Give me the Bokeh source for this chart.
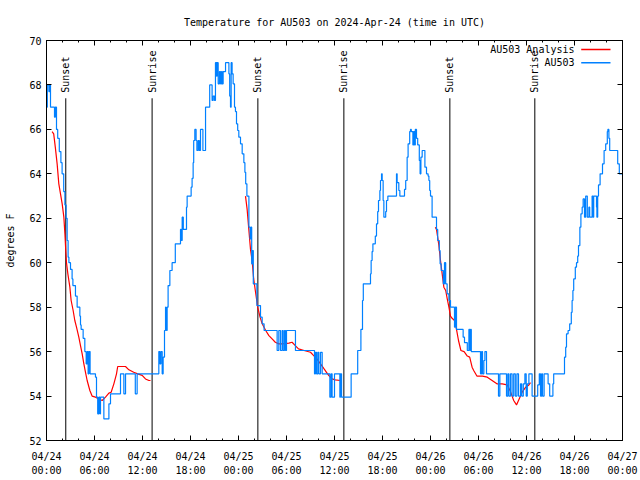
import math
from bokeh.plotting import figure
from bokeh.models import Range1d, LinearAxis, FixedTicker
from bokeh.embed import file_html
from bokeh.resources import INLINE
from bokeh.core.properties import value

FONT = "DejaVu Sans Mono"

# ---------------- data (hours since 2024-04-24 00:00 UTC) ----------------
x_ticks = [0, 6, 12, 18, 24, 30, 36, 42, 48, 54, 60, 66, 72]
x_tick_labels = ["04/24\n00:00", "04/24\n06:00", "04/24\n12:00", "04/24\n18:00",
                 "04/25\n00:00", "04/25\n06:00", "04/25\n12:00", "04/25\n18:00",
                 "04/26\n00:00", "04/26\n06:00", "04/26\n12:00", "04/26\n18:00",
                 "04/27\n00:00"]
x_minor_ticks = list(range(0, 73, 2))
y_ticks = [52, 54, 56, 58, 60, 62, 64, 66, 68, 70]

event_hours = [2.41, 13.2, 26.42, 37.17, 50.42, 61.04]
event_names = ["Sunset", "Sunrise", "Sunset", "Sunrise", "Sunset", "Sunrise"]

obs_hours = [
    0.0, 0.1, 0.3, 0.4, 0.5, 1.0, 1.1, 1.25, 1.4, 1.6, 1.8, 1.95, 2.15, 2.3, 2.45,
    2.58, 2.7, 2.8, 3.0, 3.2, 3.3, 3.62, 3.83, 4.17, 4.25, 4.33, 4.58, 4.79, 4.96,
    5.1, 5.2, 5.3, 5.45, 6.12, 6.25, 6.4, 6.54, 6.67, 6.75, 7.17, 7.8, 8.0, 9.25,
    9.67, 9.88, 11.1, 11.33, 14.04, 14.17, 14.3, 14.46, 14.58, 14.75, 14.88, 14.95,
    15.0, 15.08, 15.2, 15.42, 15.7, 16.1, 16.75, 16.85, 16.96, 17.1, 17.5, 17.58,
    18.08, 18.2, 18.33, 18.4, 18.54, 18.7, 18.8, 18.96, 19.1, 19.25, 19.55, 19.88,
    20.4, 20.7, 20.83, 21.0, 21.12, 21.25, 21.33, 21.46, 21.62, 21.75, 21.88, 21.96,
    22.08, 22.38, 22.8, 22.9, 23.0, 23.08, 23.2, 23.33, 23.5, 23.62, 23.75, 23.9,
    24.04, 24.25, 24.46, 24.67, 24.8, 24.9, 25.05, 25.3, 25.45, 25.55, 25.65, 25.75,
    25.85, 26.3, 26.75, 26.96, 27.2, 28.83, 29.04, 29.25, 29.46, 29.58, 29.75, 29.88,
    30.0, 31.12, 33.5, 33.62, 33.75, 33.92, 34.04, 34.25, 34.46, 35.42, 35.58, 35.7,
    36.0, 36.67, 36.75, 36.88, 38.08, 38.9, 39.3, 39.5, 39.6, 40.5, 40.58, 40.7,
    40.8, 41.1, 41.25, 41.4, 41.5, 41.67, 41.75, 41.88, 41.96, 42.08, 42.17, 42.4,
    42.5, 42.67, 43.75, 43.83, 44.04, 44.17, 44.75, 44.9, 45.08, 45.2, 45.4, 45.5,
    45.6, 45.8, 45.9, 46.0, 46.1, 46.25, 46.4, 46.6, 46.7, 46.8, 46.96, 47.3, 47.5,
    47.7, 47.8, 47.9, 48.0, 48.2, 48.75, 48.9, 49.1, 49.2, 49.33, 49.6, 49.75, 49.9,
    50.08, 50.3, 50.5, 51.0, 51.1, 51.25, 52.08, 52.25, 52.6, 52.8, 52.9, 53.0, 53.1,
    54.25, 54.4, 54.5, 54.67, 54.8, 55.0, 56.5, 56.67, 57.5, 57.67, 57.8, 58.0, 58.2,
    58.4, 58.6, 58.8, 59.0, 59.25, 59.4, 59.6, 59.8, 59.96, 60.1, 60.3, 60.7, 61.4,
    61.6, 61.75, 61.9, 62.0, 62.2, 62.7, 62.9, 63.3, 63.4, 64.75, 64.9, 65.0, 65.2,
    65.4, 65.6, 65.7, 65.8, 65.9, 66.1, 66.25, 66.4, 66.5, 66.67, 66.8, 66.96, 67.08,
    67.25, 67.4, 67.6, 67.8, 67.9, 68.2, 68.3, 68.4, 68.75, 68.8, 68.9, 69.0, 69.2,
    69.5, 69.7, 69.9, 70.1, 70.17, 70.3, 70.4, 71.4, 71.6, 72.0]
obs_temps = [
    67.0, 68.0, 67.7, 68.0, 67.0, 66.55, 67.0, 66.0, 65.6, 65.0, 64.5, 64.0, 63.2, 62.6, 62.0,
    61.0, 60.25, 60.0, 59.7, 59.27, 58.97, 58.5, 58.0, 57.6, 57.2, 57.0, 56.6, 56.0, 55.45,
    56.0, 55.0, 56.0, 55.0, 54.85, 53.95, 53.2, 53.95, 53.2, 53.95, 52.97, 53.65, 54.1, 55.0,
    54.1, 55.0, 54.1, 55.0, 56.0, 55.45, 56.0, 55.0, 55.75, 56.95, 58.0, 57.4,
    56.95, 58.0, 58.97, 59.65, 60.0, 60.85, 61.5, 61.0, 62.05, 61.5, 62.5, 63.0,
    63.4, 63.8, 64.5, 65.5, 66.0, 65.5, 65.05, 65.5, 65.05, 66.0, 65.05, 67.0,
    68.0, 67.3, 67.5, 67.3, 69.0, 68.4, 69.0, 68.05, 68.6, 68.05, 68.6, 68.05,
    68.6, 69.0, 68.5, 67.5, 67.0, 69.0, 68.5, 68.05, 67.0, 66.8, 66.25, 65.95,
    65.65, 65.35, 64.9, 64.5, 64.07, 63.55, 63.0, 61.6, 61.07, 61.6, 59.95, 60.55,
    59.05, 58.07, 57.55, 57.25, 56.95, 56.05, 56.95, 56.05, 56.95, 56.05, 56.95, 56.05,
    56.95, 56.05, 55.0, 55.97, 55.0, 55.97, 55.0, 55.97, 55.0, 53.95, 55.0, 53.95,
    55.0, 53.95, 55.0, 53.95, 55.0, 56.05, 57.0, 58.3, 59.05, 59.5, 60.1, 60.5,
    60.85, 61.2, 61.75, 62.3, 62.8, 63.25, 63.7, 64.0, 63.7, 62.8, 62.05, 62.3,
    62.8, 63.0, 64.0, 63.6, 63.25, 63.0, 63.3, 63.7, 64.75, 65.35, 65.9, 66.0,
    65.9, 65.3, 65.9, 65.3, 66.0, 65.6, 65.3, 64.6, 64.0, 64.75, 65.05, 64.3, 64.0,
    63.9, 63.7, 63.25, 63.0, 62.05, 61.5, 61.0, 60.55, 59.95, 59.65, 59.05, 60.0, 59.05,
    58.6, 58.3, 58.0, 57.1, 58.0, 57.0, 56.65, 56.4, 56.05, 57.0, 56.05, 57.0, 56.0,
    55.0, 56.0, 55.0, 55.6, 56.0, 55.0, 54.0, 55.0, 54.0, 55.0, 54.0, 55.0, 54.0,
    55.0, 54.0, 55.0, 54.0, 54.55, 54.0, 54.55, 55.0, 54.0, 54.55, 55.0, 54.0, 54.5,
    55.0, 54.0, 55.0, 54.0, 55.0, 54.55, 54.0, 54.55, 55.0, 55.75, 56.2, 56.8, 56.95,
    57.25, 57.77, 58.3, 58.75, 59.27, 59.8, 60.0, 60.3, 60.77, 61.6, 62.2, 62.5, 62.87,
    62.05, 63.0, 62.05, 62.5, 62.05, 63.0, 62.05, 63.0, 62.5, 62.05, 63.0, 63.5, 64.0,
    64.45, 65.05, 65.35, 65.9, 66.0, 65.6, 65.05, 64.45, 64.0, 64.0]

ana1_hours = [0.7, 0.9, 1.1, 1.33, 1.54, 1.75, 1.96, 2.17, 2.3, 2.4, 2.5, 2.67, 2.92, 3.08,
              3.33, 3.54, 3.75, 4.04, 4.25, 4.46, 4.67, 4.875, 5.08, 5.42, 5.7, 6.125, 6.54,
              6.96, 7.375, 7.8, 8.08, 8.42, 8.75, 8.9, 9.875, 10.3, 10.9, 11.4, 11.96,
              12.375, 12.8, 13.0]
ana1_temps = [65.9, 65.8, 65.2, 64.45, 63.55, 63.1, 62.65, 62.05, 61.3, 60.6, 60.0, 59.5, 58.9,
              58.3, 57.85, 57.4, 57.1, 56.65, 56.27, 55.9, 55.45, 55.07, 54.7, 54.25, 54.0,
              53.95, 53.87, 53.8, 53.95, 54.13, 54.17, 54.55, 55.0, 55.33, 55.33, 55.18,
              55.07, 55.0, 54.93, 54.77, 54.7, 54.7]
ana2_hours = [24.875, 25.08, 25.3, 25.5, 25.7, 25.9, 26.1, 26.4, 26.7, 26.96, 27.4, 27.8,
              28.2, 28.6, 29.04, 29.45, 30.3, 30.7, 31.1, 31.5, 32.2, 33.0, 33.4, 33.8,
              34.25, 34.7, 35.0, 35.3, 35.7, 36.1, 36.7]
ana2_temps = [63.0, 62.4, 61.45, 60.6, 60.1, 59.27, 58.75, 58.0, 57.55, 57.25, 56.95, 56.72,
              56.57, 56.42, 56.35, 56.35, 56.38, 56.42, 56.27, 56.12, 56.05, 55.97, 55.82,
              55.67, 55.45, 55.22, 55.07, 54.92, 54.77, 54.73, 54.7]
ana3_hours = [48.6, 48.75, 49.04, 49.25, 49.46, 49.67, 49.9, 50.08, 50.3, 50.5, 50.7, 51.0,
              51.25, 51.5, 51.8, 52.2, 52.6, 52.9, 53.2, 53.4, 53.8, 54.5, 55.1, 55.7, 56.3,
              56.96, 57.6, 58.0, 58.4, 58.75, 59.0, 59.5, 59.9, 60.3, 60.5]
ana3_temps = [61.6, 61.5, 60.8, 60.1, 59.5, 58.9, 58.75, 58.4, 58.0, 57.6, 57.5, 57.4,
              57.0, 56.5, 56.05, 56.0, 55.8, 55.75, 55.3, 55.15, 54.9, 54.9, 54.85, 54.7, 54.55,
              54.55, 54.5, 54.2, 53.8, 53.6, 53.8, 54.2, 54.4, 54.5, 54.6]

RED = "#ff0000"
BLUE = "#0080ff"

# ---------------- figure ----------------
p = figure(width=640, height=480, x_range=Range1d(0, 72), y_range=Range1d(52, 70),
           output_backend="svg", toolbar_location=None,
           x_axis_location=None, y_axis_location=None,
           min_border_left=46, min_border_right=18, min_border_top=40, min_border_bottom=40)
p.xgrid.visible = False
p.ygrid.visible = False
p.background_fill_color = "white"
p.border_fill_color = "white"
p.outline_line_color = "black"

p.title.text = "Temperature for AU503 on 2024-Apr-24 (time in UTC)"
p.title.align = "center"
p.title.text_font = FONT
p.title.text_font_size = "10px"
p.title.text_font_style = "normal"
p.title.text_color = "black"
p.title.standoff = 25


def style_axis(ax, show_labels):
    ax.axis_line_color = "black"
    ax.major_tick_line_color = "black"
    ax.minor_tick_line_color = "black"
    ax.major_tick_in = 5
    ax.major_tick_out = 0
    ax.minor_tick_in = 2
    ax.minor_tick_out = 0
    ax.major_label_text_font = FONT
    ax.major_label_text_color = "black"
    if show_labels:
        ax.major_label_text_font_size = "10px"
        ax.major_label_standoff = 5
    else:
        ax.major_label_text_font_size = "0px"
        ax.major_label_standoff = 0


xlabels = {t: lab for t, lab in zip(x_ticks, x_tick_labels)}
bottom = LinearAxis(ticker=FixedTicker(ticks=x_ticks, minor_ticks=x_minor_ticks),
                    major_label_overrides=xlabels)
style_axis(bottom, True)
bottom.major_label_standoff = 10
bottom.major_label_text_line_height = 1.3
p.add_layout(bottom, "below")

top = LinearAxis(ticker=FixedTicker(ticks=x_ticks, minor_ticks=x_minor_ticks),
                 major_label_overrides={t: "" for t in x_ticks})
style_axis(top, False)
p.add_layout(top, "above")

left = LinearAxis(ticker=FixedTicker(ticks=y_ticks, minor_ticks=[]), axis_label="degrees F")
style_axis(left, True)
left.axis_label_text_font = FONT
left.axis_label_text_font_size = "10px"
left.axis_label_text_font_style = "normal"
left.axis_label_text_color = "black"
left.axis_label_standoff = 10
p.add_layout(left, "left")

right = LinearAxis(ticker=FixedTicker(ticks=y_ticks, minor_ticks=[]),
                   major_label_overrides={t: "" for t in y_ticks})
style_axis(right, False)
p.add_layout(right, "right")

# sunrise / sunset markers
line_top = 67.4
label_base = 67.65
p.segment(x0=event_hours, y0=[52] * len(event_hours), x1=event_hours,
          y1=[line_top] * len(event_hours), line_color="black", line_width=1)
p.text(x=event_hours, y=[label_base] * len(event_hours), text=event_names,
       angle=math.pi / 2, text_align="left", text_baseline="middle",
       text_font=value(FONT), text_font_size="10px", text_color="black")

# analysis (red)
for hx, ty in ((ana1_hours, ana1_temps), (ana2_hours, ana2_temps), (ana3_hours, ana3_temps)):
    p.line(hx, ty, line_color=RED, line_width=1.2)

# observations (blue)
p.step(obs_hours, obs_temps, mode="after", line_color=BLUE, line_width=1.2)

# legend (gnuplot style: text, then sample)
leg_text_x = 66.0
leg_x0, leg_x1 = 66.84, 70.5
leg_y = [69.6, 69.0]
leg_labels = ["AU503 Analysis", "AU503"]
leg_colors = [RED, BLUE]
p.text(x=[leg_text_x] * 2, y=leg_y, text=leg_labels, text_align="right",
       text_baseline="middle", text_font=value(FONT), text_font_size="10px",
       text_color="black")
p.segment(x0=[leg_x0] * 2, y0=leg_y, x1=[leg_x1] * 2, y1=leg_y,
          line_color=leg_colors, line_width=1.5)

open("out.html", "w").write(file_html(p, INLINE))
